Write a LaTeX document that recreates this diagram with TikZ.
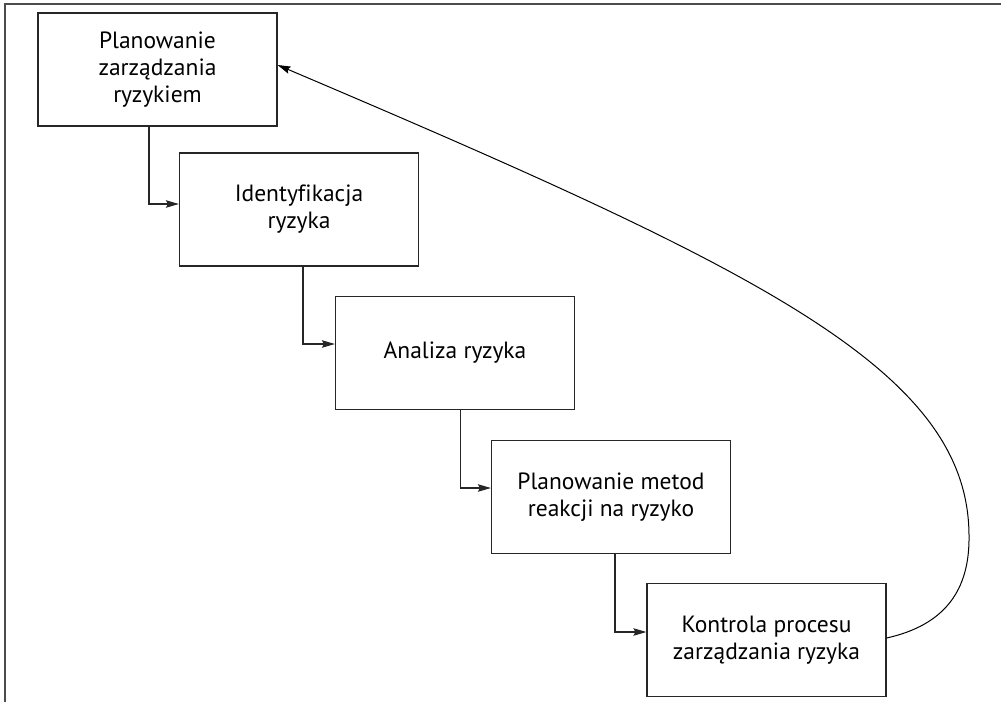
\documentclass[tikz,border=0pt]{standalone}
\usepackage{fontspec}
\setmainfont[Ligatures=NoCommon]{PT Sans}
\usetikzlibrary{arrows.meta}
\begin{document}
\begin{tikzpicture}[x=1pt,y=-1pt,
  stepbox/.style={draw=black!85, line width=1.2pt, minimum width=239pt,
    minimum height=113pt, align=center, inner sep=0pt,
    font=\fontsize{23.5}{27}\selectfont},
  tip/.style={-{Stealth[length=13pt,width=7.5pt,inset=2pt]}},
  flow/.style={draw=black!85, line width=1.1pt, tip},
  loopback/.style={draw=black, line width=1pt, tip},
]
\useasboundingbox (0,0) rectangle (1001,702);
% frame edges
\draw[black!70, line width=1.3pt] (5,702) -- (5,4) -- (1001,4);

% process steps
\node[stepbox] (b1) at (157.5,69.5) {Planowanie\\zarządzania\\ryzykiem};
\node[stepbox] (b2) at (299,209.5)  {Identyfikacja\\ryzyka};
\node[stepbox] (b3) at (455,353)    {Analiza ryzyka};
\node[stepbox] (b4) at (611,497)    {Planowanie metod\\reakcji na ryzyko};
\node[stepbox] (b5) at (766.5,640)  {Kontrola procesu\\zarządzania ryzyka};

% step-to-step connectors
\draw[flow] ([xshift=-8.5pt]b1.south) |- ([yshift=5.5pt]b2.west);
\draw[flow] ([xshift=4pt]b2.south)    |- ([yshift=9pt]b3.west);
\draw[flow] ([xshift=5.5pt]b3.south)  |- ([yshift=9pt]b4.west);
\draw[flow] ([xshift=4pt]b4.south)    |- ([yshift=8pt]b5.west);

% feedback loop back to the first step
\draw[loopback] ([yshift=2pt]b5.east)
  .. controls (945,625) and (970,590) .. (969,535)
  .. controls (968,370) and (760,270) .. ([yshift=4.5pt]b1.east);
\end{tikzpicture}
\end{document}
